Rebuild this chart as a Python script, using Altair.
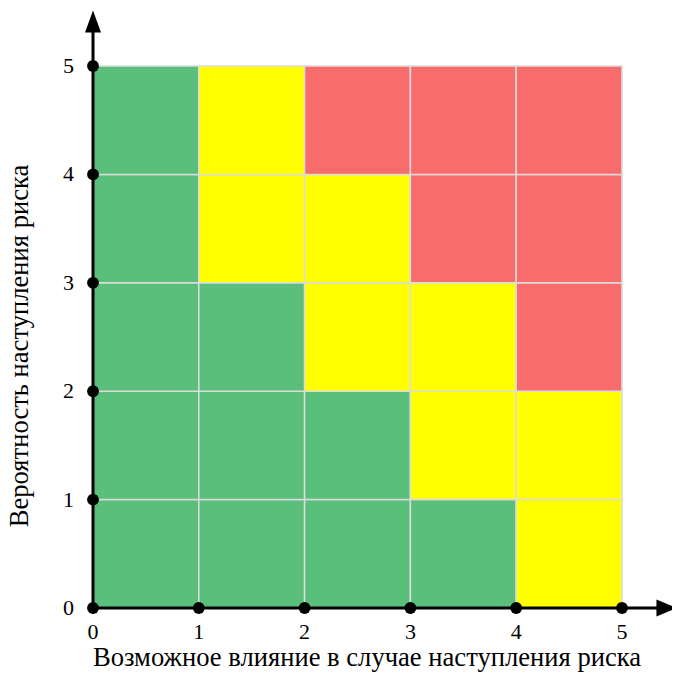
import altair as alt
import pandas as pd

# cell categories, rows from bottom (probability 0-1) to top (4-5), columns impact 0-1 .. 4-5
rows = [
    ["low", "low", "low", "low", "mid"],
    ["low", "low", "low", "mid", "mid"],
    ["low", "low", "mid", "mid", "high"],
    ["low", "mid", "mid", "high", "high"],
    ["low", "mid", "high", "high", "high"],
]
ticks = [0, 1, 2, 3, 4, 5]
x_title = "Возможное влияние в случае наступления риска"
y_title = "Вероятность наступления риска"

cells = []
for r, row in enumerate(rows):
    for c, lvl in enumerate(row):
        cells.append({"x": c, "x2": c + 1, "y": r, "y2": r + 1, "lvl": lvl})
cells = pd.DataFrame(cells)

FONT = "Liberation Serif"
xs = alt.Scale(domain=[0, 5], nice=False, zero=False)
ys = alt.Scale(domain=[0, 5], nice=False, zero=False)

rects = alt.Chart(cells).mark_rect(stroke="#dcdcdc", strokeWidth=1.5).encode(
    x=alt.X("x:Q", scale=xs, axis=None),
    x2="x2:Q",
    y=alt.Y("y:Q", scale=ys, axis=None),
    y2="y2:Q",
    color=alt.Color("lvl:N", scale=alt.Scale(domain=["low", "mid", "high"],
                                             range=["#5abf7b", "#ffff00", "#f86c6b"]), legend=None),
)

axes_df = pd.DataFrame([
    {"x": 0, "x2": 5.4, "y": 0, "y2": 0},
    {"x": 0, "x2": 0, "y": 0, "y2": 5.4},
])
axis_lines = alt.Chart(axes_df).mark_rule(color="black", strokeWidth=3).encode(
    x=alt.X("x:Q", scale=xs), x2="x2:Q", y=alt.Y("y:Q", scale=ys), y2="y2:Q")

arrow_x = alt.Chart(pd.DataFrame([{"x": 5.42, "y": 0}])).mark_point(
    shape="M-1,-0.85L1,0L-1,0.85Z", size=400, filled=True, color="black", opacity=1).encode(
    x=alt.X("x:Q", scale=xs), y=alt.Y("y:Q", scale=ys))
arrow_y = alt.Chart(pd.DataFrame([{"x": 0, "y": 5.41}])).mark_point(
    shape="M-0.8,1.1L0,-1.1L0.8,1.1Z", size=400, filled=True, color="black", opacity=1).encode(
    x=alt.X("x:Q", scale=xs), y=alt.Y("y:Q", scale=ys))

dots_df = pd.DataFrame([{"x": t, "y": 0} for t in ticks] + [{"x": 0, "y": t} for t in ticks[1:]])
dots = alt.Chart(dots_df).mark_circle(size=140, color="black", opacity=1).encode(
    x=alt.X("x:Q", scale=xs), y=alt.Y("y:Q", scale=ys))

tick_df = pd.DataFrame({"v": ticks, "t": [str(t) for t in ticks]})
x_labels = alt.Chart(tick_df).mark_text(font=FONT, fontSize=22, color="black", align="center",
                                        baseline="alphabetic").encode(
    x=alt.X("v:Q", scale=xs), y=alt.value(573), text="t:N")
y_labels = alt.Chart(tick_df).mark_text(font=FONT, fontSize=22, color="black", align="right",
                                        baseline="middle").encode(
    y=alt.Y("v:Q", scale=ys), x=alt.value(-19), text="t:N")

x_title_mark = alt.Chart(pd.DataFrame({"t": [x_title]})).mark_text(
    font=FONT, fontSize=26.6, color="black", align="center", baseline="alphabetic").encode(
    x=alt.value(274), y=alt.value(600), text="t:N")
y_title_mark = alt.Chart(pd.DataFrame({"t": [y_title]})).mark_text(
    font=FONT, fontSize=26.6, color="black", align="center", baseline="alphabetic", angle=270).encode(
    x=alt.value(-65), y=alt.value(280), text="t:N")

chart = alt.layer(rects, axis_lines, arrow_x, arrow_y, dots, x_labels, y_labels,
                  x_title_mark, y_title_mark).properties(
    width=529, height=542, background="white",
    autosize=alt.AutoSizeParams(type="none"),
    padding={"left": 85, "top": 58, "right": 50, "bottom": 64},
).configure_view(stroke=None)

chart.save("out.html", embed_options={"renderer": "svg", "actions": False})
